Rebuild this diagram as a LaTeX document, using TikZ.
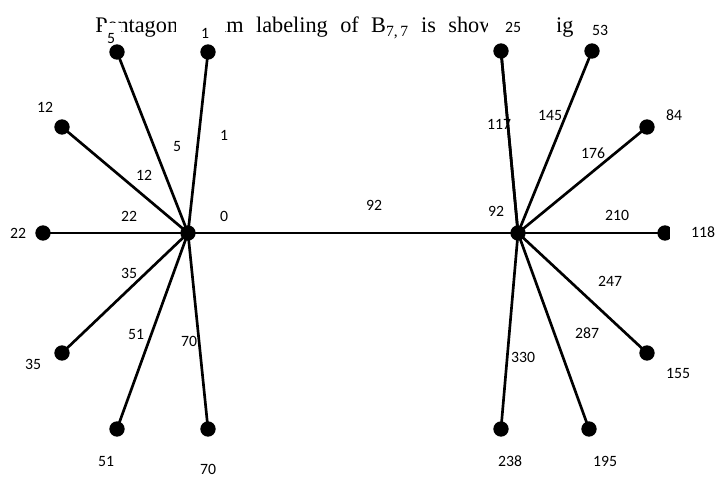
\documentclass[tikz,border=0pt]{standalone}
\usepackage{fontspec}
\setmainfont{Liberation Serif}
\newfontfamily\lblfont{Carlito}
\begin{document}
\begin{tikzpicture}[x=0.75pt,y=-0.75pt,
  dot/.style={circle,fill=black,inner sep=0pt,minimum size=11.5pt},
  edge/.style={line width=2pt},
  lbl/.style={font=\lblfont\fontsize{11.8}{14}\selectfont,inner sep=0pt},
  cover/.style={fill=white}]
\useasboundingbox (0,0) rectangle (727,477);
% title (justified line: stretched spaces)
\node[anchor=base west,inner sep=0pt,font=\fontsize{16.7}{20}\selectfont] (title) at (95,33)
  {\spaceskip=9.3pt\relax Pentagonal sum labeling of B\textsubscript{7,\,7} is shown in fig};
% centres
\node[dot] (L) at (188,233) {};
\node[dot] (R) at (518,233) {};
% left leaves
\node[dot] (a1)  at (208,52) {};
\node[dot] (a5)  at (117,52) {};
\node[dot] (a12) at (62,127) {};
\node[dot] (a22) at (43,233) {};
\node[dot] (a35) at (62,353) {};
\node[dot] (a51) at (117,429) {};
\node[dot] (a70) at (208,429) {};
% right leaves
\node[dot] (b25)  at (501,51) {};
\node[dot] (b53)  at (592,51) {};
\node[dot] (b84)  at (647,127) {};
\node[dot] (b118) at (665,233) {};
\node[dot] (b155) at (647,353) {};
\node[dot] (b195) at (589,429) {};
\node[dot] (b238) at (501,429) {};
% edges
\foreach \n in {a1,a5,a12,a22,a35,a51,a70} \draw[edge] (L.center) -- (\n.center);
\foreach \n in {b25,b53,b84,b118,b155,b195,b238} \draw[edge] (R.center) -- (\n.center);
\draw[edge] (L.center) -- (R.center);
% edge labels
\node[lbl] (e1)   at (224,135) {1};
\node[lbl] (e5)   at (177,147) {5};
\node[lbl] (e12)  at (144,175) {12};
\node[lbl] (e22)  at (129,216) {22};
\node[lbl] (e0)   at (224,216) {0};
\node[lbl] (e35)  at (129,273) {35};
\node[lbl] (e51)  at (136,334) {51};
\node[lbl] (e70)  at (189,341) {70};
\node[lbl] (e92)  at (374,205) {92};
\node[lbl] (e92r) at (496,211) {92};
\node[lbl] (e117) at (499,124) {117};
\node[lbl] (e145) at (550,115) {145};
\node[lbl] (e176) at (593,153) {176};
\node[lbl] (e210) at (617,215) {210};
\node[lbl] (e247) at (610,281) {247};
\node[lbl] (e287) at (587,333) {287};
\node[lbl] (e330) at (523,357) {330};
% the edge to 25 runs over its label 117
\draw[edge] (R.center) -- (b25.center);
% white text boxes of the vertex labels
\fill[cover] (102,23) rectangle (121,43);
\fill[cover] (176,5) rectangle (225,43);
\fill[cover] (488,5) rectangle (557,42);
\fill[cover] (578,5) rectangle (630,42);
\fill[cover] (670,220) rectangle (727,246);
% vertex labels
\node[lbl] (v5)   at (111,39) {5};
\node[lbl] (v1)   at (205,33) {1};
\node[lbl] (v12)  at (45,107) {12};
\node[lbl] (v22)  at (18,233) {22};
\node[lbl] (v35)  at (33,364) {35};
\node[lbl] (v51)  at (106,461) {51};
\node[lbl] (v70)  at (208,469) {70};
\node[lbl] (v25)  at (513,27) {25};
\node[lbl] (v53)  at (600,30) {53};
\node[lbl] (v84)  at (674,115) {84};
\node[lbl] (v118) at (703,232) {118};
\node[lbl] (v155) at (678,373) {155};
\node[lbl] (v195) at (605,461) {195};
\node[lbl] (v238) at (510,461) {238};
\end{tikzpicture}
\end{document}
